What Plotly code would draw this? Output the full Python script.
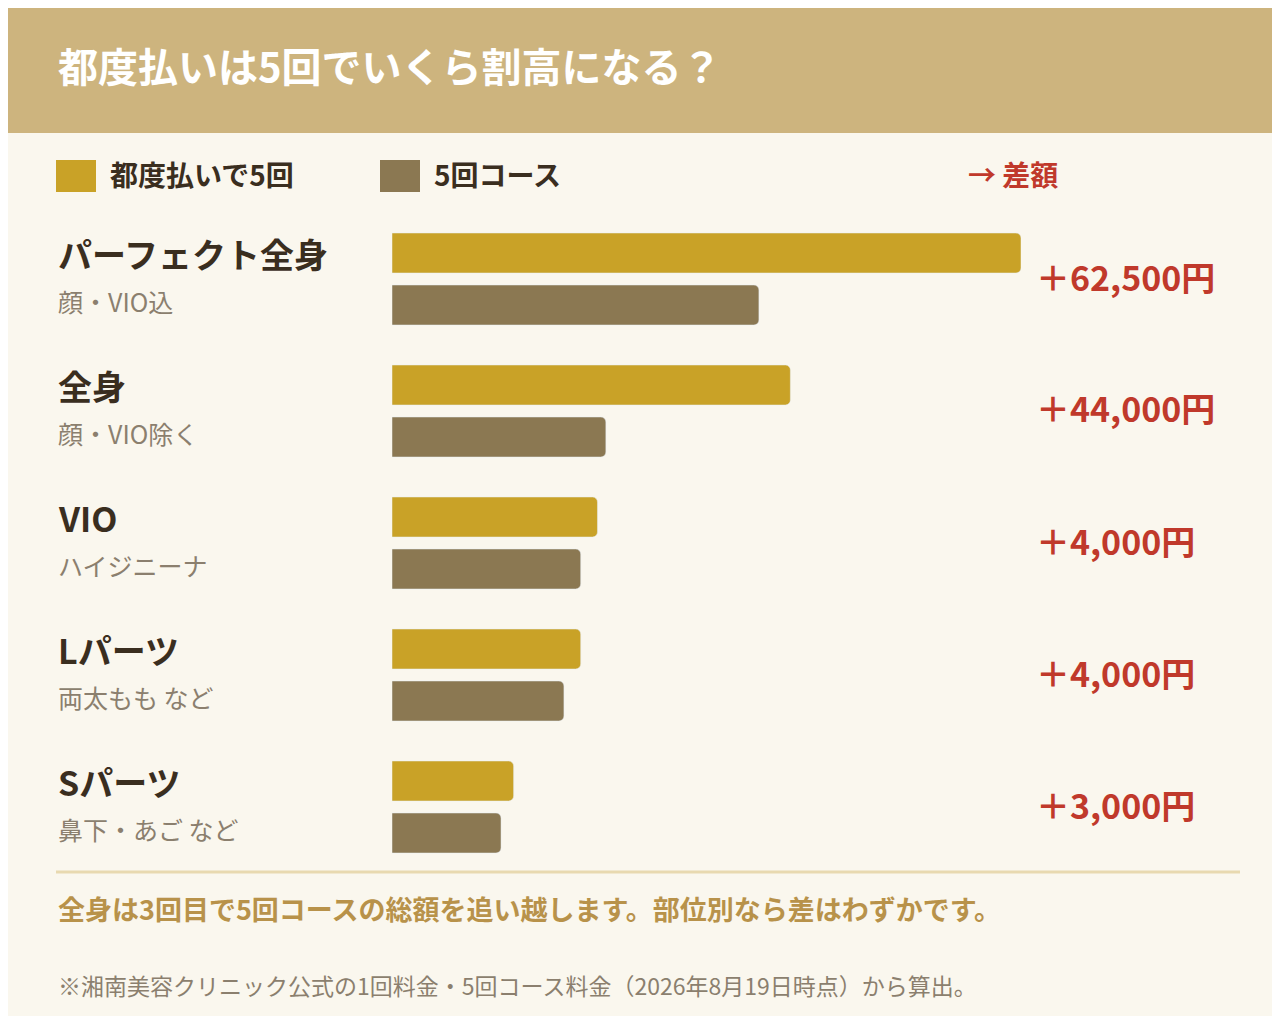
import plotly.graph_objects as go

categories = ["パーフェクト全身", "全身", "VIO", "Lパーツ", "Sパーツ"]
subs = ["顔・VIO込", "顔・VIO除く", "ハイジニーナ", "両太もも など", "鼻下・あご など"]
per_visit = [150000, 95000, 49000, 45000, 29000]
course = [87500, 51000, 45000, 41000, 26000]
diff_labels = ["＋62,500円", "＋44,000円", "＋4,000円", "＋4,000円", "＋3,000円"]

W, H = 1280, 1016
FONT = "Noto Sans CJK JP"
C1, C2 = "#C9A227", "#8B7852"
RED = "#C0392B"

centers = [271 + 132 * i for i in range(len(categories))]
fig = go.Figure()
fig.add_trace(go.Bar(x=per_visit, y=[c - 26 for c in centers], orientation="h",
                     width=40, marker_color=C1, hoverinfo="skip"))
fig.add_trace(go.Bar(x=course, y=[c + 26 for c in centers], orientation="h",
                     width=40, marker_color=C2, hoverinfo="skip"))

ann = []
def T(x, y, s, size, color, bold=False, anchor="left"):
    ann.append(dict(x=x / W, y=1 - y / H, xref="paper", yref="paper", text=f"<b>{s}</b>" if bold else s,
                    showarrow=False, xanchor=anchor, yanchor="middle",
                    font=dict(family=FONT, size=size, color=color)))

T(48, 57, "都度払いは5回でいくら割高になる？", 40, "white", True)
T(100, 166, "都度払いで5回", 28, "#3a2e1f", True)
T(424, 166, "5回コース", 28, "#3a2e1f", True)
T(958, 166, "→ 差額", 28, RED, True)
for i, c in enumerate(centers):
    T(48, c - 26, categories[i], 34, "#3a2e1f", True)
    T(48, c + 22, subs[i], 25, "#8B7F6E")
    T(1026, c - 3, diff_labels[i], 34, RED, True)
T(48, 900, "全身は3回目で5回コースの総額を追い越します。部位別なら差はわずかです。", 27, "#B8924A", True)
T(48, 977, "※湘南美容クリニック公式の1回料金・5回コース料金（2026年8月19日時点）から算出。", 23, "#8B7F6E")

shapes = [
    dict(type="rect", xref="paper", yref="paper", x0=0, x1=1, y0=1 - 125 / H, y1=1,
         fillcolor="#CDB47E", line_width=0, layer="below"),
    dict(type="rect", xref="paper", yref="paper", x0=48 / W, x1=88 / W, y0=1 - 184 / H, y1=1 - 152 / H,
         fillcolor=C1, line_width=0),
    dict(type="rect", xref="paper", yref="paper", x0=372 / W, x1=412 / W, y0=1 - 184 / H, y1=1 - 152 / H,
         fillcolor=C2, line_width=0),
    dict(type="line", xref="paper", yref="paper", x0=48 / W, x1=1232 / W, y0=1 - 864 / H, y1=1 - 864 / H,
         line=dict(color="#E8D9B0", width=3)),
]

fig.update_layout(
    width=W, height=H, margin=dict(l=0, r=0, t=0, b=0),
    paper_bgcolor="#FAF7EE", plot_bgcolor="#FAF7EE",
    showlegend=False, barmode="overlay", barcornerradius=5,
    xaxis=dict(domain=[384 / W, 1013 / W], range=[0, 150000], visible=False, fixedrange=True),
    yaxis=dict(domain=[0, 1], range=[H, 0], visible=False, fixedrange=True),
    annotations=ann, shapes=shapes,
)
fig.write_html("out.html")
